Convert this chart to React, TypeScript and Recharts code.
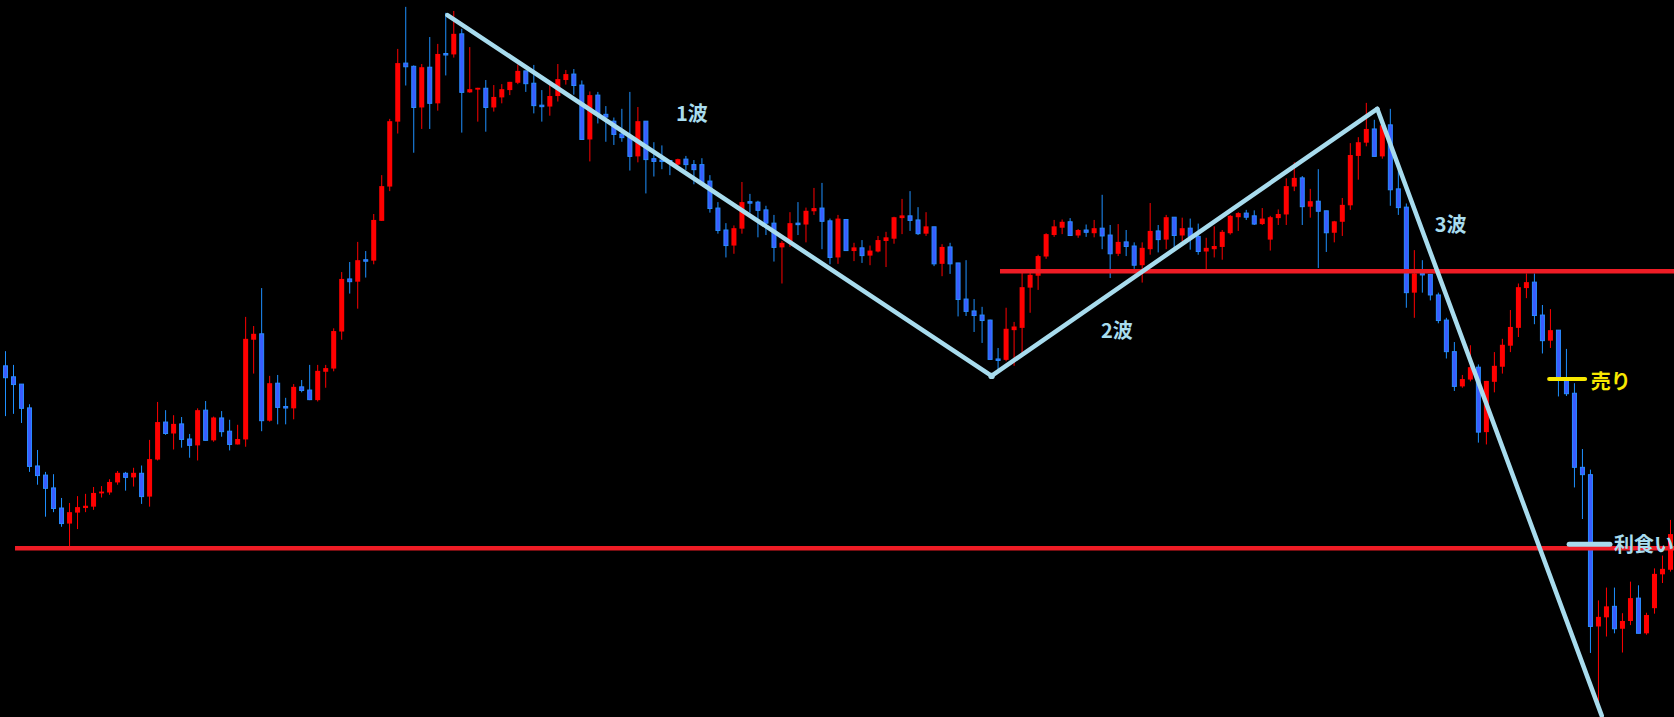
import React from 'react';
import { ComposedChart, Bar, XAxis, YAxis, ReferenceLine, ReferenceDot } from 'recharts';

const highs = [
  768,798,840,884,984,1032,1037,1089,1100,1085,
  1080,1065,1063,1048,1030,1032,1023,1018,962,879,
  897,908,912,949,893,877,911,899,918,929,
  693,713,630,822,820,870,840,831,798,798,
  798,718,595,573,529,549,468,383,260,107,
  15,143,140,81,96,28,24,63,103,192,
  175,186,184,179,141,155,142,197,185,140,
  153,151,176,200,201,232,257,238,201,234,
  265,311,318,350,347,341,350,346,383,442,
  488,493,398,424,439,450,470,527,464,442,
  454,411,400,478,470,479,531,525,537,516,
  507,474,435,418,453,464,496,534,531,575,
  569,654,671,699,761,673,704,597,597,557,
  510,481,480,477,501,491,481,426,492,490,
  503,530,530,444,492,470,475,476,478,489,
  520,495,503,470,464,459,460,455,472,458,
  390,355,385,413,370,461,483,433,313,300,
  225,262,270,238,370,445,547,569,600,640,
  695,748,820,755,797,833,770,741,678,620,
  598,598,667,676,722,763,838,982,1027,1313,
  1285,1285,1341,1272,1280,1340,1243,1215,1137,
];
const lows = [
  910,905,925,1032,1060,1130,1120,1152,1195,1157,
  1120,1115,1088,1082,1060,1073,1064,1102,1108,1007,
  951,983,979,1001,1007,963,966,955,985,972,
  977,817,943,922,928,928,917,858,875,878,
  848,812,743,642,675,607,578,483,418,292,
  187,334,282,282,242,165,126,290,203,266,
  288,244,226,208,184,201,248,266,253,222,
  185,207,305,353,270,310,317,310,373,355,
  423,386,370,383,362,372,403,403,465,511,
  563,555,511,465,519,514,572,620,540,514,
  530,470,545,578,577,548,571,575,580,552,
  584,533,512,505,514,516,582,604,599,692,
  691,726,750,786,810,790,800,772,684,634,
  566,518,512,516,520,518,519,545,608,560,
  560,588,618,557,552,545,545,528,546,557,
  590,563,568,513,505,481,492,492,548,492,
  492,418,492,476,586,551,530,516,459,393,
  320,342,347,450,470,673,695,640,657,707,
  784,855,848,834,968,972,858,817,770,737,
  652,709,773,761,867,866,1066,1135,1428,1540,
  1392,1385,1427,1367,1385,1388,1342,1275,1250,
];
const opens = [
  800,824,840,892,1019,1039,1067,1111,1145,1121,
  1111,1108,1079,1077,1055,1035,1044,1035,1086,1005,
  923,948,927,960,974,897,963,914,943,972,
  961,743,730,920,838,889,893,846,853,875,
  813,806,725,610,616,568,570,483,408,266,
  138,145,235,147,226,117,119,74,202,196,
  193,235,213,197,181,155,182,230,233,210,
  175,162,186,305,208,250,265,293,300,342,
  265,347,350,351,360,348,360,360,396,455,
  503,537,500,441,442,459,488,541,531,488,
  491,462,455,483,563,480,549,542,559,550,
  527,522,477,472,481,511,496,577,540,575,
  654,680,689,700,785,787,722,717,629,603,
  561,514,498,485,515,503,510,499,514,555,
  529,538,580,545,505,524,475,515,499,517,
  550,545,540,510,475,466,472,490,524,477,
  469,408,389,452,440,461,509,485,449,341,
  312,282,342,273,413,453,640,598,600,645,
  700,769,845,830,803,945,835,802,756,717,
  630,617,689,745,722,829,860,1022,1038,1370,
  1350,1326,1375,1358,1308,1385,1330,1256,1246,
];
const closes = [
  826,841,893,1020,1040,1068,1112,1145,1120,1109,
  1106,1078,1075,1054,1034,1044,1034,1086,1004,923,
  948,927,961,974,897,963,913,944,972,960,
  741,730,920,838,891,892,846,854,874,811,
  805,724,610,616,569,571,481,407,265,138,
  146,235,147,226,118,119,74,202,195,192,
  235,212,195,179,155,183,231,233,210,173,
  162,187,305,208,250,256,294,301,342,265,
  349,353,353,354,348,360,371,400,456,504,
  537,499,442,444,460,488,541,531,488,491,
  461,455,484,563,478,548,541,559,548,525,
  519,475,471,482,511,495,577,540,577,655,
  681,690,701,786,788,719,714,628,601,560,
  512,495,485,515,503,508,499,516,555,529,
  539,580,542,505,524,475,515,499,517,550,
  542,538,507,472,466,475,490,478,475,468,
  407,389,452,440,462,509,484,448,339,311,
  282,342,274,415,454,640,598,601,645,701,
  769,845,829,803,945,833,800,754,715,628,
  617,690,745,722,829,861,1022,1038,1370,1349,
  1326,1375,1358,1308,1385,1345,1255,1244,1168,
];
const categories = highs.map((_, i) => `${i + 1}`);

// Wave pivots (candle index, depth)
const waveIdx = [55.27, 123.25, 171.43, 199.47];
const waveLvl = [33, 822, 238, 1565];

// Horizontal levels
const levelLvl = [1199, 593];
const levelFrom = [1.25, 124.3];
const levelTo = 208.5;

const sellIdx = [192.9, 197.4];
const sellLvl = 829;
const takeIdx = [195.4, 200.5];
const takeLvl = 1190;

const labelTexts = ['1波', '2波', '3波', '売り', '利食い'];
const labelIdx = [85.8, 138.9, 180.6, 198.1, 201.0];
const labelLvl = [245, 720, 488, 833, 1188];
const labelColor = ['#a8dcee', '#a8dcee', '#a8dcee', '#f8e800', '#a8dcee'];
const labelAnchor = ['middle', 'middle', 'middle', 'start', 'start'];

const data = categories.map((c, i) => ({
  cat: c,
  idx: i,
  open: opens[i],
  high: highs[i],
  low: lows[i],
  close: closes[i],
}));

const LIGHT = '#a8dcee';
const LINE_RED = '#ee1c25';

function Candle(props: any) {
  const { x, y, width, height, payload } = props;
  if (x == null || payload == null) return null;
  const top = Math.min(y, y + height);
  const h = Math.abs(height);
  const span = payload.low - payload.high;
  const k = span > 0 ? h / span : 0;
  const yOf = (v: number) => top + (v - payload.high) * k;
  const up = payload.close < payload.open;
  const cx = x + width / 2;
  const bt = yOf(Math.min(payload.open, payload.close));
  const bb = yOf(Math.max(payload.open, payload.close));
  const bh = Math.max(bb - bt, 1.5);
  if (up) {
    return (
      <g>
        <line x1={cx} x2={cx} y1={top} y2={top + h} stroke="#ff0000" strokeWidth={1} />
        <rect x={x} y={bt} width={width} height={bh} fill="#ff0000" />
      </g>
    );
  }
  return (
    <g>
      <line x1={cx} x2={cx} y1={top} y2={top + h} stroke="#1e90ff" strokeWidth={1} />
      <rect x={x + 0.5} y={bt} width={width - 1} height={Math.max(bh, 1)} fill="#3a5cff" stroke="#2a8cff" strokeWidth={1} />
    </g>
  );
}

function makeText(text: string, color: string, anchor: string) {
  return (p: any) => (
    <text
      x={p.cx}
      y={p.cy}
      fill={color}
      textAnchor={anchor as any}
      dominantBaseline="central"
      fontFamily="'Noto Sans CJK JP', 'Noto Sans', sans-serif"
      fontWeight="bold"
      fontSize={20}
    >
      {text}
    </text>
  );
}

export default function App() {
  return (
    <div style={{ position: 'absolute', left: 0, top: 0, width: 1674, height: 717, background: '#000', overflow: 'hidden' }}>
      <ComposedChart width={1674} height={717} data={data} margin={{ top: 0, right: 0, bottom: 0, left: 1 }}>
        <XAxis xAxisId="c" dataKey="cat" type="category" hide />
        <XAxis xAxisId="n" dataKey="idx" type="number" domain={[-0.5, 208.5]} allowDataOverflow hide />
        <YAxis type="number" domain={[0, 1568]} reversed allowDataOverflow hide />
        <Bar
          xAxisId="c"
          dataKey={(d: any) => [d.high, d.low]}
          barSize={5}
          shape={Candle}
          isAnimationActive={false}
        />
        {levelLvl.map((lv, i) => (
          <ReferenceLine
            key={`lv${i}`}
            xAxisId="n"
            ifOverflow="visible"
            segment={[{ x: levelFrom[i], y: lv }, { x: levelTo, y: lv }]}
            stroke={LINE_RED}
            strokeWidth={4.5}
          />
        ))}
        {waveIdx.slice(0, -1).map((wx, i) => (
          <ReferenceLine
            key={`w${i}`}
            xAxisId="n"
            ifOverflow="visible"
            segment={[{ x: wx, y: waveLvl[i] }, { x: waveIdx[i + 1], y: waveLvl[i + 1] }]}
            stroke={LIGHT}
            strokeWidth={4.5}
            strokeLinecap="round"
          />
        ))}
        <ReferenceDot xAxisId="n" x={waveIdx[1]} y={waveLvl[1]} r={3.2} fill={LIGHT} stroke="none" ifOverflow="visible" />
        <ReferenceLine
          xAxisId="n"
          ifOverflow="visible"
          segment={[{ x: sellIdx[0], y: sellLvl }, { x: sellIdx[1], y: sellLvl }]}
          stroke="#f8e800"
          strokeWidth={4}
          strokeLinecap="round"
        />
        <ReferenceLine
          xAxisId="n"
          ifOverflow="visible"
          segment={[{ x: takeIdx[0], y: takeLvl }, { x: takeIdx[1], y: takeLvl }]}
          stroke={LIGHT}
          strokeWidth={5}
          strokeLinecap="round"
        />
        {labelTexts.map((t, i) => (
          <ReferenceDot
            key={`t${i}`}
            xAxisId="n"
            x={labelIdx[i]}
            y={labelLvl[i]}
            r={0}
            ifOverflow="visible"
            shape={makeText(t, labelColor[i], labelAnchor[i])}
          />
        ))}
      </ComposedChart>
    </div>
  );
}
